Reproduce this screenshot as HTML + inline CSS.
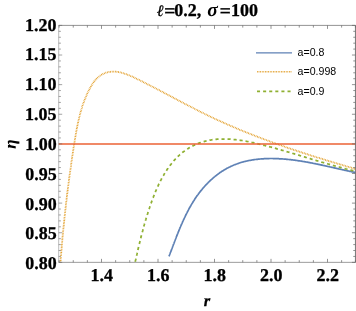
<!DOCTYPE html>
<html><head><meta charset="utf-8"><title>plot</title>
<style>
html,body{margin:0;padding:0;background:#fff;}
svg{display:block;will-change:transform;}
.t{font-family:"Liberation Serif",serif;font-weight:bold;font-size:18px;fill:#000;stroke:#000;stroke-width:0.3px;}
.lg{font-family:"Liberation Sans",sans-serif;font-size:10.6px;fill:#000;}
</style></head><body>
<svg width="356" height="311" viewBox="0 0 356 311">
<rect width="356" height="311" fill="#fff"/>
<g fill="none" stroke-linejoin="round">
<path d="M169.0,256.4 L169.2,255.9 L169.4,255.3 L169.6,254.8 L169.8,254.2 L170.0,253.7 L170.2,253.2 L170.4,252.6 L170.6,252.1 L170.8,251.5 L171.1,251.0 L171.3,250.4 L171.5,249.9 L171.7,249.3 L171.9,248.8 L172.1,248.2 L172.3,247.7 L172.5,247.1 L172.7,246.6 L172.9,246.0 L173.1,245.5 L173.3,244.9 L173.5,244.4 L173.8,243.8 L174.0,243.3 L174.2,242.7 L174.4,242.1 L174.6,241.6 L174.8,241.0 L175.0,240.5 L175.2,239.9 L175.5,239.3 L175.7,238.8 L175.9,238.2 L176.1,237.7 L176.3,237.1 L176.5,236.5 L176.8,236.0 L177.0,235.4 L177.2,234.9 L177.4,234.3 L177.7,233.7 L177.9,233.2 L178.1,232.6 L178.3,232.0 L178.6,231.5 L178.8,230.9 L179.0,230.4 L179.2,229.8 L179.5,229.2 L179.7,228.7 L179.9,228.1 L180.2,227.5 L180.4,227.0 L180.6,226.4 L180.9,225.9 L181.1,225.3 L181.4,224.8 L181.6,224.2 L181.9,223.6 L182.1,223.1 L182.3,222.5 L182.6,222.0 L182.8,221.4 L183.1,220.8 L183.3,220.3 L183.6,219.7 L183.9,219.2 L184.1,218.6 L184.4,218.1 L184.6,217.5 L184.9,217.0 L185.2,216.4 L185.4,215.9 L185.7,215.3 L186.0,214.8 L186.2,214.2 L186.5,213.7 L186.8,213.1 L187.1,212.6 L187.3,212.1 L187.6,211.5 L187.9,211.0 L188.2,210.4 L188.5,209.9 L188.7,209.4 L189.0,208.8 L189.3,208.3 L189.6,207.8 L189.9,207.2 L190.2,206.7 L190.5,206.2 L190.8,205.7 L191.1,205.1 L191.4,204.6 L191.7,204.1 L192.0,203.6 L192.4,203.0 L192.7,202.5 L193.0,202.0 L193.3,201.5 L193.6,201.0 L194.0,200.5 L194.3,200.0 L194.6,199.4 L194.9,198.9 L195.3,198.4 L195.6,197.9 L196.0,197.4 L196.3,196.9 L196.6,196.4 L197.0,195.9 L197.3,195.4 L197.7,195.0 L198.1,194.5 L198.4,194.0 L198.8,193.5 L199.1,193.0 L199.5,192.5 L199.9,192.1 L200.2,191.6 L200.6,191.1 L201.0,190.6 L201.4,190.2 L201.8,189.7 L202.1,189.2 L202.5,188.8 L202.9,188.3 L203.3,187.8 L203.7,187.4 L204.1,186.9 L204.5,186.5 L204.9,186.0 L205.3,185.6 L205.7,185.2 L206.1,184.7 L206.5,184.3 L207.0,183.9 L207.4,183.4 L207.8,183.0 L208.2,182.6 L208.6,182.1 L209.1,181.7 L209.5,181.3 L209.9,180.9 L210.4,180.5 L210.8,180.1 L211.2,179.7 L211.7,179.3 L212.1,178.9 L212.6,178.5 L213.0,178.1 L213.5,177.7 L213.9,177.3 L214.4,176.9 L214.8,176.6 L215.3,176.2 L215.8,175.8 L216.2,175.5 L216.7,175.1 L217.2,174.7 L217.6,174.4 L218.1,174.0 L218.6,173.7 L219.1,173.3 L219.6,173.0 L220.0,172.6 L220.5,172.3 L221.0,172.0 L221.5,171.6 L222.0,171.3 L222.5,171.0 L223.0,170.7 L223.5,170.4 L224.0,170.1 L224.5,169.8 L225.0,169.5 L225.5,169.2 L226.0,168.9 L226.5,168.6 L227.0,168.3 L227.6,168.0 L228.1,167.8 L228.6,167.5 L229.1,167.2 L229.7,167.0 L230.2,166.7 L230.7,166.4 L231.2,166.2 L231.8,166.0 L232.3,165.7 L232.8,165.5 L233.4,165.2 L233.9,165.0 L234.5,164.8 L235.0,164.6 L235.6,164.4 L236.1,164.2 L236.7,164.0 L237.2,163.8 L237.8,163.6 L238.3,163.4 L238.9,163.2 L239.4,163.0 L240.0,162.8 L240.6,162.6 L241.1,162.5 L241.7,162.3 L242.3,162.1 L242.8,162.0 L243.4,161.8 L244.0,161.7 L244.6,161.5 L245.1,161.4 L245.7,161.3 L246.3,161.1 L246.9,161.0 L247.4,160.9 L248.0,160.7 L248.6,160.6 L249.2,160.5 L249.8,160.4 L250.4,160.3 L251.0,160.2 L251.5,160.1 L252.1,160.0 L252.7,159.9 L253.3,159.8 L253.9,159.7 L254.5,159.6 L255.1,159.5 L255.7,159.5 L256.3,159.4 L256.9,159.3 L257.5,159.3 L258.1,159.2 L258.7,159.1 L259.3,159.1 L259.9,159.0 L260.5,159.0 L261.1,158.9 L261.7,158.9 L262.3,158.8 L262.9,158.8 L263.5,158.8 L264.1,158.7 L264.7,158.7 L265.3,158.7 L265.9,158.6 L266.5,158.6 L267.1,158.6 L267.7,158.6 L268.3,158.6 L269.0,158.6 L269.6,158.5 L270.2,158.5 L270.8,158.5 L271.4,158.5 L272.0,158.5 L272.6,158.5 L273.2,158.6 L273.8,158.6 L274.4,158.6 L275.0,158.6 L275.6,158.6 L276.3,158.6 L276.9,158.6 L277.5,158.7 L278.1,158.7 L278.7,158.7 L279.3,158.8 L279.9,158.8 L280.5,158.8 L281.1,158.9 L281.7,158.9 L282.3,158.9 L282.9,159.0 L283.5,159.0 L284.1,159.1 L284.7,159.1 L285.4,159.2 L286.0,159.2 L286.6,159.3 L287.2,159.3 L287.8,159.4 L288.4,159.5 L289.0,159.5 L289.6,159.6 L290.2,159.7 L290.8,159.7 L291.4,159.8 L292.0,159.9 L292.6,159.9 L293.2,160.0 L293.8,160.1 L294.4,160.2 L295.0,160.2 L295.6,160.3 L296.2,160.4 L296.8,160.5 L297.4,160.6 L298.0,160.7 L298.6,160.8 L299.2,160.8 L299.8,160.9 L300.4,161.0 L301.0,161.1 L301.6,161.2 L302.1,161.3 L302.7,161.4 L303.3,161.5 L303.9,161.6 L304.5,161.7 L305.1,161.8 L305.7,161.9 L306.3,162.0 L306.9,162.1 L307.5,162.2 L308.1,162.3 L308.7,162.4 L309.3,162.6 L309.9,162.7 L310.5,162.8 L311.1,162.9 L311.6,163.0 L312.2,163.1 L312.8,163.2 L313.4,163.4 L314.0,163.5 L314.6,163.6 L315.2,163.7 L315.8,163.8 L316.4,164.0 L317.0,164.1 L317.6,164.2 L318.1,164.3 L318.7,164.4 L319.3,164.6 L319.9,164.7 L320.5,164.8 L321.1,164.9 L321.7,165.1 L322.3,165.2 L322.8,165.3 L323.4,165.5 L324.0,165.6 L324.6,165.7 L325.2,165.8 L325.8,166.0 L326.4,166.1 L327.0,166.2 L327.5,166.4 L328.1,166.5 L328.7,166.6 L329.3,166.7 L329.9,166.9 L330.5,167.0 L331.0,167.1 L331.6,167.3 L332.2,167.4 L332.8,167.5 L333.4,167.7 L334.0,167.8 L334.5,167.9 L335.1,168.1 L335.7,168.2 L336.3,168.3 L336.9,168.5 L337.5,168.6 L338.0,168.7 L338.6,168.9 L339.2,169.0 L339.8,169.1 L340.4,169.2 L341.0,169.4 L341.5,169.5 L342.1,169.6 L342.7,169.8 L343.3,169.9 L343.9,170.0 L344.4,170.2 L345.0,170.3 L345.6,170.4 L346.2,170.5 L346.8,170.7 L347.3,170.8 L347.9,170.9 L348.5,171.0 L349.1,171.2 L349.7,171.3 L350.2,171.4 L350.8,171.5 L351.4,171.7 L352.0,171.8 L352.6,171.9 L353.1,172.0 L353.7,172.1 L354.3,172.3 L354.9,172.4 L355.4,172.5" stroke="#5e81b5" stroke-width="1.7"/>
<path d="M60.4,262.4 L60.5,261.2 L60.6,260.0 L60.7,258.8 L60.8,257.6 L60.9,256.5 L61.0,255.3 L61.1,254.1 L61.2,252.9 L61.3,251.8 L61.4,250.6 L61.5,249.4 L61.6,248.2 L61.7,247.1 L61.8,245.9 L61.9,244.7 L62.0,243.5 L62.1,242.4 L62.2,241.2 L62.3,240.0 L62.4,238.8 L62.5,237.7 L62.6,236.5 L62.7,235.3 L62.8,234.2 L63.0,233.0 L63.1,231.8 L63.2,230.6 L63.3,229.5 L63.4,228.3 L63.5,227.1 L63.6,226.0 L63.8,224.8 L63.9,223.6 L64.0,222.4 L64.1,221.3 L64.3,220.1 L64.4,218.9 L64.5,217.8 L64.6,216.6 L64.8,215.4 L64.9,214.3 L65.0,213.1 L65.1,211.9 L65.3,210.7 L65.4,209.6 L65.5,208.4 L65.7,207.2 L65.8,206.1 L65.9,204.9 L66.1,203.7 L66.2,202.6 L66.3,201.4 L66.5,200.2 L66.6,199.1 L66.7,197.9 L66.9,196.7 L67.0,195.5 L67.2,194.4 L67.3,193.2 L67.5,192.0 L67.6,190.9 L67.8,189.7 L67.9,188.5 L68.0,187.4 L68.2,186.2 L68.3,185.0 L68.5,183.9 L68.6,182.7 L68.8,181.5 L69.0,180.4 L69.1,179.2 L69.3,178.0 L69.4,176.9 L69.6,175.7 L69.7,174.5 L69.9,173.4 L70.1,172.2 L70.2,171.0 L70.4,169.9 L70.5,168.7 L70.7,167.5 L70.9,166.4 L71.0,165.2 L71.2,164.0 L71.4,162.9 L71.5,161.7 L71.7,160.5 L71.9,159.4 L72.0,158.2 L72.2,157.0 L72.4,155.9 L72.6,154.7 L72.7,153.6 L72.9,152.4 L73.1,151.2 L73.3,150.1 L73.4,148.9 L73.6,147.7 L73.8,146.6 L74.0,145.4 L74.2,144.2 L74.4,143.1 L74.5,141.9 L74.7,140.7 L74.9,139.6 L75.1,138.4 L75.3,137.2 L75.5,136.1 L75.7,134.9 L75.9,133.7 L76.1,132.6 L76.3,131.4 L76.5,130.3 L76.7,129.1 L77.0,127.9 L77.2,126.8 L77.4,125.6 L77.6,124.5 L77.9,123.3 L78.1,122.2 L78.4,121.0 L78.6,119.9 L78.9,118.7 L79.2,117.6 L79.5,116.4 L79.7,115.3 L80.0,114.2 L80.3,113.0 L80.7,111.9 L81.0,110.8 L81.3,109.6 L81.7,108.5 L82.0,107.4 L82.4,106.3 L82.7,105.2 L83.1,104.0 L83.5,102.9 L83.9,101.8 L84.3,100.7 L84.7,99.6 L85.2,98.5 L85.6,97.4 L86.1,96.3 L86.5,95.3 L87.0,94.2 L87.5,93.1 L88.0,92.0 L88.6,91.0 L89.1,89.9 L89.6,88.8 L90.2,87.8 L90.8,86.7 L91.4,85.7 L92.0,84.7 L92.7,83.6 L93.3,82.7 L94.0,81.7 L94.7,80.7 L95.5,79.8 L96.3,79.0 L97.1,78.1 L98.0,77.3 L98.9,76.6 L99.8,75.9 L100.8,75.2 L101.8,74.6 L102.8,74.1 L103.9,73.6 L105.0,73.1 L106.0,72.7 L107.1,72.4 L108.2,72.2 L109.3,71.9 L110.4,71.8 L111.5,71.7 L112.6,71.6 L113.7,71.6 L114.8,71.6 L116.0,71.7 L117.1,71.8 L118.2,72.0 L119.3,72.2 L120.4,72.4 L121.5,72.7 L122.6,73.0 L123.7,73.3 L124.8,73.7 L126.0,74.1 L127.1,74.5 L128.2,74.9 L129.3,75.4 L130.4,75.9 L131.5,76.3 L132.6,76.8 L133.7,77.3 L134.8,77.9 L135.9,78.4 L137.0,78.9 L138.1,79.5 L139.2,80.0 L140.3,80.6 L141.4,81.1 L142.5,81.6 L143.6,82.2 L144.6,82.7 L145.7,83.3 L146.8,83.8 L147.9,84.4 L148.9,84.9 L150.0,85.5 L151.1,86.0 L152.1,86.6 L153.2,87.1 L154.3,87.7 L155.3,88.2 L156.4,88.8 L157.4,89.3 L158.5,89.9 L159.6,90.4 L160.6,91.0 L161.7,91.5 L162.7,92.1 L163.8,92.6 L164.8,93.2 L165.8,93.7 L166.9,94.3 L167.9,94.8 L169.0,95.4 L170.0,95.9 L171.1,96.5 L172.1,97.0 L173.1,97.6 L174.2,98.1 L175.2,98.7 L176.2,99.2 L177.3,99.8 L178.3,100.3 L179.3,100.9 L180.4,101.4 L181.4,102.0 L182.5,102.5 L183.5,103.0 L184.5,103.6 L185.6,104.1 L186.6,104.7 L187.6,105.2 L188.7,105.7 L189.7,106.3 L190.7,106.8 L191.8,107.3 L192.8,107.9 L193.8,108.4 L194.9,108.9 L195.9,109.5 L196.9,110.0 L198.0,110.5 L199.0,111.0 L200.1,111.6 L201.1,112.1 L202.1,112.6 L203.2,113.1 L204.2,113.6 L205.3,114.2 L206.3,114.7 L207.4,115.2 L208.4,115.7 L209.5,116.2 L210.5,116.7 L211.6,117.2 L212.6,117.7 L213.7,118.2 L214.7,118.7 L215.8,119.2 L216.9,119.7 L217.9,120.2 L219.0,120.7 L220.1,121.1 L221.1,121.6 L222.2,122.1 L223.3,122.6 L224.3,123.1 L225.4,123.5 L226.5,124.0 L227.5,124.5 L228.6,125.0 L229.7,125.4 L230.8,125.9 L231.9,126.4 L232.9,126.8 L234.0,127.3 L235.1,127.7 L236.2,128.2 L237.3,128.7 L238.3,129.1 L239.4,129.6 L240.5,130.0 L241.6,130.5 L242.7,130.9 L243.8,131.4 L244.9,131.8 L246.0,132.2 L247.1,132.7 L248.2,133.1 L249.3,133.6 L250.4,134.0 L251.5,134.4 L252.5,134.9 L253.6,135.3 L254.7,135.7 L255.8,136.1 L256.9,136.6 L258.1,137.0 L259.2,137.4 L260.3,137.8 L261.4,138.3 L262.5,138.7 L263.6,139.1 L264.7,139.5 L265.8,139.9 L266.9,140.3 L268.0,140.7 L269.1,141.1 L270.2,141.6 L271.3,142.0 L272.5,142.4 L273.6,142.8 L274.7,143.2 L275.8,143.6 L276.9,144.0 L278.0,144.4 L279.1,144.8 L280.2,145.2 L281.4,145.5 L282.5,145.9 L283.6,146.3 L284.7,146.7 L285.8,147.1 L287.0,147.5 L288.1,147.9 L289.2,148.3 L290.3,148.6 L291.4,149.0 L292.6,149.4 L293.7,149.8 L294.8,150.1 L295.9,150.5 L297.0,150.9 L298.2,151.3 L299.3,151.6 L300.4,152.0 L301.5,152.4 L302.7,152.8 L303.8,153.1 L304.9,153.5 L306.0,153.8 L307.2,154.2 L308.3,154.6 L309.4,154.9 L310.5,155.3 L311.6,155.7 L312.8,156.0 L313.9,156.4 L315.0,156.7 L316.1,157.1 L317.3,157.4 L318.4,157.8 L319.5,158.1 L320.6,158.5 L321.8,158.8 L322.9,159.2 L324.0,159.5 L325.1,159.9 L326.3,160.2 L327.4,160.6 L328.5,160.9 L329.6,161.3 L330.8,161.6 L331.9,161.9 L333.0,162.3 L334.1,162.6 L335.3,163.0 L336.4,163.3 L337.5,163.6 L338.6,164.0 L339.8,164.3 L340.9,164.6 L342.0,165.0 L343.1,165.3 L344.3,165.6 L345.4,166.0 L346.5,166.3 L347.6,166.6 L348.7,166.9 L349.9,167.3 L351.0,167.6 L352.1,167.9 L353.2,168.3 L354.3,168.6 L355.4,168.9" stroke="#e19c24" stroke-width="1.8" stroke-dasharray="0.8 0.8"/>
<path d="M135.1,262.3 L135.3,261.6 L135.4,260.9 L135.6,260.1 L135.8,259.4 L135.9,258.6 L136.1,257.9 L136.3,257.2 L136.4,256.4 L136.6,255.7 L136.8,254.9 L136.9,254.2 L137.1,253.5 L137.3,252.7 L137.5,252.0 L137.6,251.3 L137.8,250.5 L138.0,249.8 L138.1,249.0 L138.3,248.3 L138.5,247.6 L138.7,246.8 L138.8,246.1 L139.0,245.4 L139.2,244.6 L139.4,243.9 L139.5,243.2 L139.7,242.4 L139.9,241.7 L140.1,241.0 L140.2,240.2 L140.4,239.5 L140.6,238.8 L140.8,238.0 L141.0,237.3 L141.2,236.6 L141.3,235.9 L141.5,235.1 L141.7,234.4 L141.9,233.7 L142.1,232.9 L142.3,232.2 L142.5,231.5 L142.7,230.8 L142.9,230.0 L143.1,229.3 L143.2,228.6 L143.4,227.9 L143.6,227.1 L143.8,226.4 L144.0,225.7 L144.2,225.0 L144.4,224.2 L144.7,223.5 L144.9,222.8 L145.1,222.1 L145.3,221.3 L145.5,220.6 L145.7,219.9 L145.9,219.2 L146.1,218.4 L146.3,217.7 L146.6,217.0 L146.8,216.3 L147.0,215.6 L147.2,214.8 L147.5,214.1 L147.7,213.4 L147.9,212.7 L148.1,212.0 L148.4,211.2 L148.6,210.5 L148.8,209.8 L149.1,209.1 L149.3,208.4 L149.6,207.6 L149.8,206.9 L150.0,206.2 L150.3,205.5 L150.5,204.8 L150.8,204.1 L151.1,203.3 L151.3,202.6 L151.6,201.9 L151.8,201.2 L152.1,200.5 L152.4,199.8 L152.6,199.0 L152.9,198.3 L153.2,197.6 L153.4,196.9 L153.7,196.2 L154.0,195.5 L154.3,194.8 L154.6,194.0 L154.8,193.3 L155.1,192.6 L155.4,191.9 L155.7,191.2 L156.0,190.5 L156.3,189.8 L156.6,189.1 L156.9,188.4 L157.2,187.7 L157.6,187.0 L157.9,186.3 L158.2,185.6 L158.5,184.9 L158.8,184.2 L159.2,183.5 L159.5,182.8 L159.9,182.1 L160.2,181.4 L160.5,180.8 L160.9,180.1 L161.2,179.4 L161.6,178.7 L162.0,178.0 L162.3,177.4 L162.7,176.7 L163.1,176.0 L163.5,175.4 L163.9,174.7 L164.2,174.0 L164.6,173.4 L165.0,172.7 L165.4,172.1 L165.9,171.4 L166.3,170.8 L166.7,170.2 L167.1,169.5 L167.5,168.9 L168.0,168.3 L168.4,167.6 L168.9,167.0 L169.3,166.4 L169.8,165.8 L170.2,165.2 L170.7,164.6 L171.2,164.0 L171.6,163.4 L172.1,162.8 L172.6,162.2 L173.1,161.6 L173.6,161.1 L174.1,160.5 L174.6,159.9 L175.1,159.4 L175.6,158.8 L176.1,158.3 L176.7,157.7 L177.2,157.2 L177.7,156.7 L178.3,156.2 L178.8,155.6 L179.4,155.1 L179.9,154.6 L180.5,154.1 L181.1,153.6 L181.6,153.2 L182.2,152.7 L182.8,152.2 L183.4,151.8 L184.0,151.3 L184.6,150.9 L185.2,150.4 L185.8,150.0 L186.4,149.6 L187.0,149.2 L187.7,148.8 L188.3,148.4 L188.9,148.0 L189.6,147.6 L190.2,147.3 L190.8,146.9 L191.5,146.5 L192.2,146.2 L192.8,145.9 L193.5,145.5 L194.2,145.2 L194.8,144.9 L195.5,144.6 L196.2,144.3 L196.9,144.0 L197.5,143.7 L198.2,143.4 L198.9,143.2 L199.6,142.9 L200.3,142.7 L201.0,142.4 L201.7,142.2 L202.4,142.0 L203.2,141.8 L203.9,141.6 L204.6,141.4 L205.3,141.2 L206.0,141.0 L206.7,140.8 L207.5,140.7 L208.2,140.5 L208.9,140.4 L209.6,140.2 L210.4,140.1 L211.1,140.0 L211.8,139.8 L212.6,139.7 L213.3,139.6 L214.0,139.5 L214.8,139.5 L215.5,139.4 L216.2,139.3 L217.0,139.2 L217.7,139.2 L218.5,139.1 L219.2,139.1 L220.0,139.1 L220.7,139.0 L221.5,139.0 L222.2,139.0 L223.0,139.0 L223.7,139.0 L224.5,139.0 L225.2,139.0 L226.0,139.0 L226.7,139.0 L227.5,139.1 L228.2,139.1 L229.0,139.1 L229.8,139.2 L230.5,139.2 L231.3,139.3 L232.0,139.3 L232.8,139.4 L233.5,139.5 L234.3,139.5 L235.1,139.6 L235.8,139.7 L236.6,139.8 L237.3,139.9 L238.1,140.0 L238.9,140.1 L239.6,140.2 L240.4,140.3 L241.2,140.4 L241.9,140.5 L242.7,140.7 L243.4,140.8 L244.2,140.9 L245.0,141.1 L245.7,141.2 L246.5,141.3 L247.3,141.5 L248.0,141.6 L248.8,141.8 L249.5,141.9 L250.3,142.1 L251.1,142.2 L251.8,142.4 L252.6,142.6 L253.3,142.7 L254.1,142.9 L254.8,143.1 L255.6,143.3 L256.4,143.4 L257.1,143.6 L257.9,143.8 L258.6,144.0 L259.4,144.2 L260.1,144.3 L260.9,144.5 L261.6,144.7 L262.4,144.9 L263.1,145.1 L263.9,145.3 L264.6,145.5 L265.4,145.7 L266.1,145.9 L266.8,146.1 L267.6,146.3 L268.3,146.4 L269.1,146.6 L269.8,146.8 L270.5,147.0 L271.3,147.2 L272.0,147.4 L272.7,147.6 L273.5,147.8 L274.2,148.0 L274.9,148.2 L275.7,148.4 L276.4,148.6 L277.1,148.9 L277.9,149.1 L278.6,149.3 L279.3,149.5 L280.0,149.7 L280.8,149.9 L281.5,150.1 L282.2,150.3 L282.9,150.5 L283.7,150.7 L284.4,150.9 L285.1,151.1 L285.8,151.3 L286.5,151.6 L287.3,151.8 L288.0,152.0 L288.7,152.2 L289.4,152.4 L290.1,152.6 L290.9,152.8 L291.6,153.0 L292.3,153.2 L293.0,153.5 L293.7,153.7 L294.4,153.9 L295.1,154.1 L295.9,154.3 L296.6,154.5 L297.3,154.7 L298.0,155.0 L298.7,155.2 L299.4,155.4 L300.1,155.6 L300.9,155.8 L301.6,156.0 L302.3,156.2 L303.0,156.5 L303.7,156.7 L304.4,156.9 L305.1,157.1 L305.8,157.3 L306.6,157.5 L307.3,157.8 L308.0,158.0 L308.7,158.2 L309.4,158.4 L310.1,158.6 L310.8,158.8 L311.5,159.1 L312.3,159.3 L313.0,159.5 L313.7,159.7 L314.4,159.9 L315.1,160.1 L315.8,160.3 L316.5,160.6 L317.3,160.8 L318.0,161.0 L318.7,161.2 L319.4,161.4 L320.1,161.6 L320.8,161.8 L321.6,162.1 L322.3,162.3 L323.0,162.5 L323.7,162.7 L324.4,162.9 L325.2,163.1 L325.9,163.3 L326.6,163.5 L327.3,163.7 L328.0,164.0 L328.8,164.2 L329.5,164.4 L330.2,164.6 L330.9,164.8 L331.7,165.0 L332.4,165.2 L333.1,165.4 L333.9,165.6 L334.6,165.8 L335.3,166.0 L336.0,166.2 L336.8,166.4 L337.5,166.6 L338.2,166.8 L339.0,167.0 L339.7,167.2 L340.5,167.4 L341.2,167.6 L341.9,167.8 L342.7,168.0 L343.4,168.2 L344.2,168.4 L344.9,168.6 L345.6,168.8 L346.4,169.0 L347.1,169.2 L347.9,169.4 L348.6,169.6 L349.4,169.8 L350.1,170.0 L350.9,170.2 L351.7,170.4 L352.4,170.6 L353.2,170.7 L353.9,170.9 L354.7,171.1 L355.5,171.3" stroke="#8fb032" stroke-width="1.75" stroke-dasharray="3.1 2.95" stroke-dashoffset="-0.6"/>
<path d="M58.7,144H355.45" stroke="#eb6235" stroke-width="1.7"/>
</g>
<g fill="none" stroke="#666">
<path d="M58.7,25.4V262.35" stroke-width="0.45"/>
<path d="M58.7,25.4H355.45" stroke-width="0.7"/>
<path d="M58.7,262.35H355.45" stroke-width="0.65"/>
<path d="M355.45,25.4V262.35" stroke-width="0.9"/>
<path d="M58.7,262.35h3.5M58.7,256.43h2.2M58.7,250.50h2.2M58.7,244.58h2.2M58.7,238.66h2.2M58.7,232.73h3.5M58.7,226.81h2.2M58.7,220.88h2.2M58.7,214.96h2.2M58.7,209.04h2.2M58.7,203.11h3.5M58.7,197.19h2.2M58.7,191.27h2.2M58.7,185.34h2.2M58.7,179.42h2.2M58.7,173.49h3.5M58.7,167.57h2.2M58.7,161.65h2.2M58.7,155.72h2.2M58.7,149.80h2.2M58.7,143.88h3.5M58.7,137.95h2.2M58.7,132.03h2.2M58.7,126.10h2.2M58.7,120.18h2.2M58.7,114.26h3.5M58.7,108.33h2.2M58.7,102.41h2.2M58.7,96.48h2.2M58.7,90.56h2.2M58.7,84.64h3.5M58.7,78.71h2.2M58.7,72.79h2.2M58.7,66.87h2.2M58.7,60.94h2.2M58.7,55.02h3.5M58.7,49.09h2.2M58.7,43.17h2.2M58.7,37.25h2.2M58.7,31.32h2.2M58.7,25.40h3.5" stroke-width="0.6"/>
<path d="M355.45,262.35h-3.5M355.45,256.43h-2.2M355.45,250.50h-2.2M355.45,244.58h-2.2M355.45,238.66h-2.2M355.45,232.73h-3.5M355.45,226.81h-2.2M355.45,220.88h-2.2M355.45,214.96h-2.2M355.45,209.04h-2.2M355.45,203.11h-3.5M355.45,197.19h-2.2M355.45,191.27h-2.2M355.45,185.34h-2.2M355.45,179.42h-2.2M355.45,173.49h-3.5M355.45,167.57h-2.2M355.45,161.65h-2.2M355.45,155.72h-2.2M355.45,149.80h-2.2M355.45,143.88h-3.5M355.45,137.95h-2.2M355.45,132.03h-2.2M355.45,126.10h-2.2M355.45,120.18h-2.2M355.45,114.26h-3.5M355.45,108.33h-2.2M355.45,102.41h-2.2M355.45,96.48h-2.2M355.45,90.56h-2.2M355.45,84.64h-3.5M355.45,78.71h-2.2M355.45,72.79h-2.2M355.45,66.87h-2.2M355.45,60.94h-2.2M355.45,55.02h-3.5M355.45,49.09h-2.2M355.45,43.17h-2.2M355.45,37.25h-2.2M355.45,31.32h-2.2M355.45,25.40h-3.5" stroke-width="0.7"/>
<path d="M59.13,25.4v2.2M73.25,25.4v2.2M87.38,25.4v2.2M101.50,25.4v3.5M115.63,25.4v2.2M129.75,25.4v2.2M143.88,25.4v2.2M158.00,25.4v3.5M172.13,25.4v2.2M186.25,25.4v2.2M200.38,25.4v2.2M214.50,25.4v3.5M228.63,25.4v2.2M242.75,25.4v2.2M256.88,25.4v2.2M271.00,25.4v3.5M285.13,25.4v2.2M299.25,25.4v2.2M313.38,25.4v2.2M327.50,25.4v3.5M341.62,25.4v2.2M355.45,25.4v2.2" stroke-width="0.7"/>
<path d="M59.13,262.35v-2.2M73.25,262.35v-2.2M87.38,262.35v-2.2M101.50,262.35v-3.5M115.63,262.35v-2.2M129.75,262.35v-2.2M143.88,262.35v-2.2M158.00,262.35v-3.5M172.13,262.35v-2.2M186.25,262.35v-2.2M200.38,262.35v-2.2M214.50,262.35v-3.5M228.63,262.35v-2.2M242.75,262.35v-2.2M256.88,262.35v-2.2M271.00,262.35v-3.5M285.13,262.35v-2.2M299.25,262.35v-2.2M313.38,262.35v-2.2M327.50,262.35v-3.5M341.62,262.35v-2.2M355.45,262.35v-2.2" stroke-width="0.7"/>
</g>
<g class="t" transform="skewX(0.05)">
<text x="56.5" y="269.2" text-anchor="end">0.80</text><text x="56.5" y="239.4" text-anchor="end">0.85</text><text x="56.5" y="209.6" text-anchor="end">0.90</text><text x="56.5" y="179.8" text-anchor="end">0.95</text><text x="56.5" y="149.9" text-anchor="end">1.00</text><text x="56.5" y="120.1" text-anchor="end">1.05</text><text x="56.5" y="90.3" text-anchor="end">1.10</text><text x="56.5" y="60.5" text-anchor="end">1.15</text><text x="56.5" y="30.7" text-anchor="end">1.20</text>
<text x="101.4" y="281.1" text-anchor="middle">1.4</text><text x="157.9" y="281.1" text-anchor="middle">1.6</text><text x="214.4" y="281.1" text-anchor="middle">1.8</text><text x="270.9" y="281.1" text-anchor="middle">2.0</text><text x="327.4" y="281.1" text-anchor="middle">2.2</text>
<text x="206.8" y="305.9" text-anchor="middle" font-style="italic" font-size="16.5">r</text>
<text transform="translate(15.7,144.0) rotate(-90)" text-anchor="middle" font-style="italic" font-size="17" stroke-width="0">η</text>
<g font-size="18">
<text x="156.8" y="16.3" font-style="italic" font-weight="normal" font-size="16">ℓ</text>
<text transform="translate(164.2,16.5) scale(1.08,1.04)">=</text>
<text x="174.3" y="16.3">0.2,</text>
<text x="207.3" y="16.3" font-style="italic" font-size="19.5" stroke-width="0">σ</text>
<text transform="translate(219.8,16.5) scale(1.08,1.04)">=</text>
<text x="230.9" y="16.3">100</text>
</g>
</g>
<g fill="none">
<path d="M256,52.8H292" stroke="#5e81b5" stroke-width="1.2"/>
<path d="M257,71.8H292" stroke="#e19c24" stroke-width="1.5" stroke-dasharray="0.8 0.8"/>
<path d="M257,91.3H292.5" stroke="#8fb032" stroke-width="1.7" stroke-dasharray="3.05 3.05"/>
</g>
<g class="lg">
<text x="297.6" y="56.2">a=0.8</text>
<text x="297.6" y="75.3">a=0.998</text>
<text x="297.6" y="94.8">a=0.9</text>
</g>
</svg>
</body></html>
